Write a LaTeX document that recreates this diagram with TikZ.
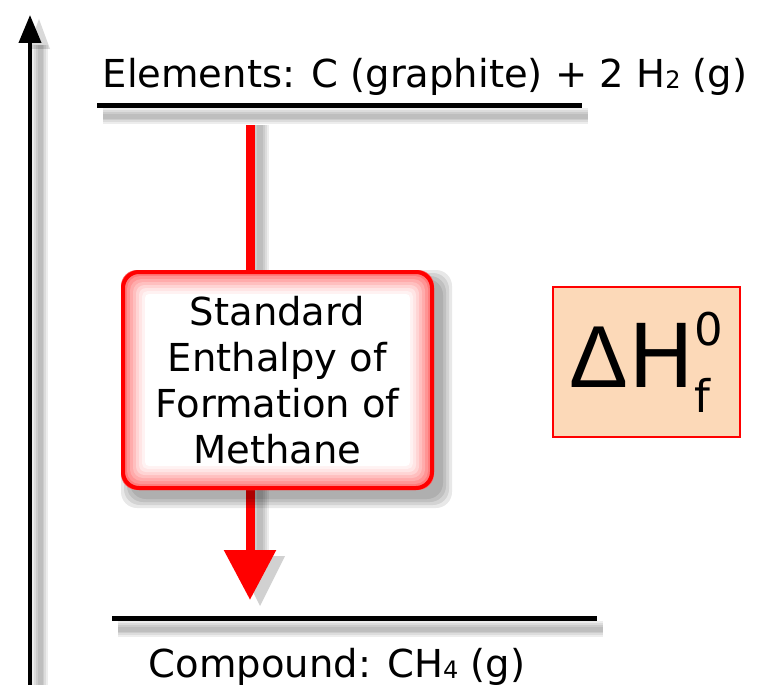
\documentclass[tikz,border=0pt]{standalone}
\usepackage{fontspec}
\setmainfont{DejaVu Sans}
\newfontfamily\deltafont{Liberation Sans}
\usetikzlibrary{arrows.meta,backgrounds}
\definecolor{peach}{HTML}{FCD9B8}
\newcommand\chemsub[1]{\raisebox{-1pt}{\fontsize{24}{24}\selectfont #1}}
\begin{document}
\begin{tikzpicture}[x=1pt,y=-1pt,font=\fontsize{38.5}{46}\selectfont,
  levelline/.style={line width=5pt,black},
  shadowpass/.style={black,opacity=0.07},
  redbox/.style={draw=red,line width=4pt,rounded corners=16pt,minimum width=309pt,minimum height=216pt,align=center,inner sep=0pt},
  deltabox/.style={draw=red,line width=1.5pt,fill=peach,minimum width=187pt,minimum height=150pt,inner sep=0pt}]
\useasboundingbox (0,0) rectangle (758,685);
% coordinates
\coordinate (axb) at (30,690);
\coordinate (axt) at (30,15);
\coordinate (t1) at (97,105);
\coordinate (t2) at (582,105);
\coordinate (b1) at (112,618);
\coordinate (b2) at (597,618);
\coordinate (rtop) at (250,125);
\coordinate (rtip) at (250,600);
% axis shadow
\foreach \w in {16,12,8,5}
  \draw[shadowpass,line width=\w pt] ([xshift=10pt]axb) -- ([xshift=10pt,yshift=-30pt]axt);
\fill[shadowpass,opacity=0.15] ([xshift=9pt,yshift=-4pt]axt) -- ++(-11,30) -- ++(22,0) -- cycle;
\draw[line width=4pt,-{Triangle[width=22pt,length=28pt]}] (axb) -- (axt);
% level lines with shadows
\foreach \w in {16,12,8,5} {
  \draw[shadowpass,line width=\w pt] ([shift={(6,11)}]t1) -- ([shift={(6,11)}]t2);
  \draw[shadowpass,line width=\w pt] ([shift={(6,11)}]b1) -- ([shift={(6,11)}]b2);
}
\draw[levelline] (t1) -- (t2);
\draw[levelline] (b1) -- (b2);
% texts
\node[anchor=base,inner sep=0pt] (elem) at (425,88) {Elements: C (graphite) + 2 H\chemsub{2} (g)};
\node[anchor=base,inner sep=0pt] (comp) at (337,677) {Compound: CH\chemsub{4} (g)};
% box
\node[redbox] (box) at (277.5,380) {Standard\\Enthalpy of\\Formation of\\Methane};
\begin{scope}[on background layer]
  % red arrow shadow
  \foreach \w in {18,14,10,6}
    \draw[shadowpass,line width=\w pt] ([xshift=10pt]rtop) -- ([shift={(10,-50)}]rtip);
  \fill[shadowpass,opacity=0.18] ([shift={(10,6)}]rtip) -- ++(-25,-50) -- ++(50,0) -- cycle;
  \draw[red,line width=9pt,-{Triangle[width=50pt,length=50pt]}] (rtop) -- (rtip);
  % box shadow
  \foreach \i in {0,3,6,9}
    \fill[shadowpass,opacity=0.09,rounded corners=16pt] ([shift={(9-\i,9-\i)}]box.north west) rectangle ([shift={(9+\i,9+\i)}]box.south east);
  % gradient fill
  \foreach \i/\c in {0/62,3/52,6/42,9/33,12/25,15/17,18/10,21/5,24/0}
    \fill[red!\c!white,rounded corners=16pt-0.5*\i pt] ([shift={(\i,\i)}]box.north west) rectangle ([shift={(-\i,-\i)}]box.south east);
\end{scope}
% delta H box
\node[deltabox] (dh) at (646.5,362) {\fontsize{88}{88}\selectfont{\deltafont Δ}H\fontsize{45}{45}\selectfont\raisebox{-25pt}{\makebox[0pt][l]{f}}\raisebox{42pt}{0}};
\end{tikzpicture}
\end{document}
